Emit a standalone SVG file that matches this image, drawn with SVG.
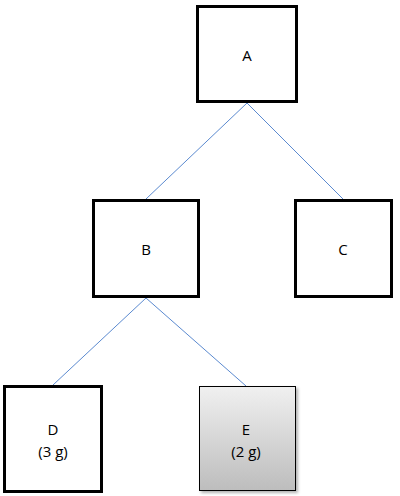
<svg xmlns="http://www.w3.org/2000/svg" width="400" height="496" viewBox="0 0 400 496">
<style>
.box{fill:#fff;stroke:#000;stroke-width:3}
.t{font-family:"Open Sans","Liberation Sans",sans-serif;font-size:15px;fill:#000;text-anchor:middle}
.c{stroke:#5b8ad0;stroke-width:1;fill:none}
</style>
<defs>
<linearGradient id="g" x1="0" y1="0" x2="0" y2="1">
<stop offset="0" stop-color="#f0f0f0"/>
<stop offset="1" stop-color="#bdbdbd"/>
</linearGradient>
<filter id="sh" x="-10%" y="-10%" width="130%" height="130%">
<feDropShadow dx="2" dy="2" stdDeviation="1.5" flood-color="#000" flood-opacity="0.3"/>
</filter>
</defs>
<rect width="400" height="496" fill="#fff"/>
<g id="connectors">
<line class="c" x1="247" y1="103" x2="146" y2="199"/>
<line class="c" x1="247" y1="103" x2="343" y2="199"/>
<line class="c" x1="146" y1="298" x2="53" y2="385"/>
<line class="c" x1="146" y1="298" x2="246" y2="386"/>
</g>
<g id="A"><rect class="box" x="197.5" y="6.5" width="99" height="95"/><text class="t" x="247" y="61">A</text></g>
<g id="B"><rect class="box" x="93.5" y="200.5" width="105" height="96"/><text class="t" x="146" y="255">B</text></g>
<g id="C"><rect class="box" x="295.5" y="200.5" width="96" height="96"/><text class="t" x="343" y="255">C</text></g>
<g id="D"><rect class="box" x="4.5" y="386.5" width="97" height="105"/><text class="t" x="53" y="435">D</text><text class="t" x="53" y="457">(3 g)</text></g>
<g id="E"><rect x="199.5" y="386.5" width="96" height="104" fill="url(#g)" stroke="#000" stroke-width="1" filter="url(#sh)"/><text class="t" x="246" y="435">E</text><text class="t" x="246" y="457">(2 g)</text></g>
</svg>
